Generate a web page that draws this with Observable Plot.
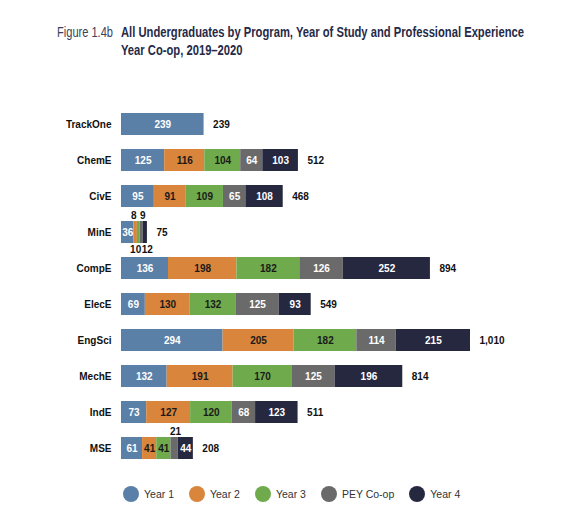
<!DOCTYPE html>
<html>
<head>
<meta charset="utf-8">
<script src="https://cdn.jsdelivr.net/npm/d3@7"></script>
<script src="https://cdn.jsdelivr.net/npm/@observablehq/plot@0.6"></script>
<style>
  body { margin: 0; background: #fff; width: 580px; overflow: hidden; }
  #title { height: 80px; position: relative;
    font-family: "Liberation Sans", Arial, sans-serif; font-size: 14px; line-height: 18px; color: #262a48; white-space: nowrap; }
  #title .fig { position: absolute; left: 57px; top: 23px; color: #3a3f5a; transform-origin: 0 0; }
  #title .main { position: absolute; left: 121px; top: 23px; font-weight: bold; transform-origin: 0 0; }
  #title span { display: inline-block; }
  #legend { height: 18px; display: flex; align-items: center; padding-left: 123px;
    font-family: "Liberation Sans", Arial, sans-serif; font-size: 10.5px; color: #333; }
  #legend .item { display: flex; align-items: center; margin-right: 15px; }
  #legend .dot { width: 16px; height: 16px; border-radius: 50%; margin-right: 5px; }
</style>
</head>
<body>
<div id="title"><div class="fig"><span id="figText">Figure 1.4b</span></div><div class="main"><span id="line1">All Undergraduates by Program, Year of Study and Professional Experience</span><br><span>Year Co-op, 2019–2020</span></div></div>
<div id="chart"></div>
<div id="legend"></div>
<script>
const programs = ["TrackOne","ChemE","CivE","MinE","CompE","ElecE","EngSci","MechE","IndE","MSE"];
const seriesNames = ["Year 1","Year 2","Year 3","PEY Co-op","Year 4"];
const year1 = [239,125,95,36,136,69,294,132,73,61];
const year2 = [0,116,91,10,198,130,205,191,127,41];
const year3 = [0,104,109,8,182,132,182,170,120,41];
const pey   = [0,64,65,9,126,125,114,125,68,21];
const year4 = [0,103,108,12,252,93,215,196,123,44];
const totals = [239,512,468,75,894,549,1010,814,511,208];

const colors = ["#5b80a8","#d9853b","#6fab4c","#6a6a6a","#262840"];
const labelColors = ["#ffffff","#1a1a1a","#1a1a1a","#ffffff","#ffffff"];

// condense the title text to the reference's narrow face
function condense(el, spanId, target) {
  const w = document.getElementById(spanId).getBoundingClientRect().width;
  el.style.transform = `scaleX(${target / w})`;
}
condense(document.querySelector("#title .main"), "line1", 403);
condense(document.querySelector("#title .fig"), "figText", 56);

const seriesValues = [year1, year2, year3, pey, year4];
const rows = [];
programs.forEach((p, i) => {
  let acc = 0;
  seriesValues.forEach((vals, s) => {
    const v = vals[i];
    if (v > 0) rows.push({program: p, series: seriesNames[s], si: s, value: v, x1: acc, x2: acc + v, mid: acc + v / 2});
    acc += v;
  });
});
const inside = rows.filter(d => d.value >= 25);
const small = rows.filter(d => d.value < 25);
const smallOf = s => small.filter(d => d.si === s);
const totalRows = programs.map((p, i) => ({program: p, total: totals[i]}));
const fmt = d3.format(",");
const common = {y: "program", fontWeight: "bold", fontSize: 10, fill: "#111", text: d => fmt(d.value)};

const chart = Plot.plot({
  width: 580,
  height: 405,
  marginLeft: 121,
  marginRight: 110,
  marginTop: 15,
  marginBottom: 8,
  style: {fontFamily: "'Liberation Sans', Arial, sans-serif", fontSize: "10px", color: "#111"},
  x: {domain: [0, 1010], axis: null},
  y: {domain: programs, padding: 0.4, label: null},
  color: {domain: seriesNames, range: colors},
  marks: [
    Plot.barX(rows, {x1: "x1", x2: "x2", y: "program", fill: "series"}),
    Plot.axisY({tickSize: 0, tickPadding: 10, fontWeight: "bold", fontSize: 10, label: null}),
    Plot.text(inside, {x: "mid", y: "program", text: d => fmt(d.value), fill: d => labelColors[d.si], fontWeight: "bold", fontSize: 10}),
    Plot.text(smallOf(2), {...common, x: "mid", dy: -17, dx: -5}),
    Plot.text(smallOf(3), {...common, x: "mid", dy: -17, dx: 1}),
    Plot.text(smallOf(1), {...common, x: "mid", dy: 17, dx: 0}),
    Plot.text(smallOf(4), {...common, x: "mid", dy: 17, dx: 2}),
    Plot.text(totalRows, {x: "total", y: "program", text: d => fmt(d.total), dx: 9, textAnchor: "start", fontWeight: "bold", fontSize: 10, fill: "#111"})
  ]
});
document.getElementById("chart").appendChild(chart);

const legend = document.getElementById("legend");
seriesNames.forEach((s, i) => {
  const item = document.createElement("div");
  item.className = "item";
  const dot = document.createElement("div");
  dot.className = "dot";
  dot.style.background = colors[i];
  const label = document.createElement("span");
  label.textContent = s;
  item.appendChild(dot);
  item.appendChild(label);
  legend.appendChild(item);
});
</script>
</body>
</html>
